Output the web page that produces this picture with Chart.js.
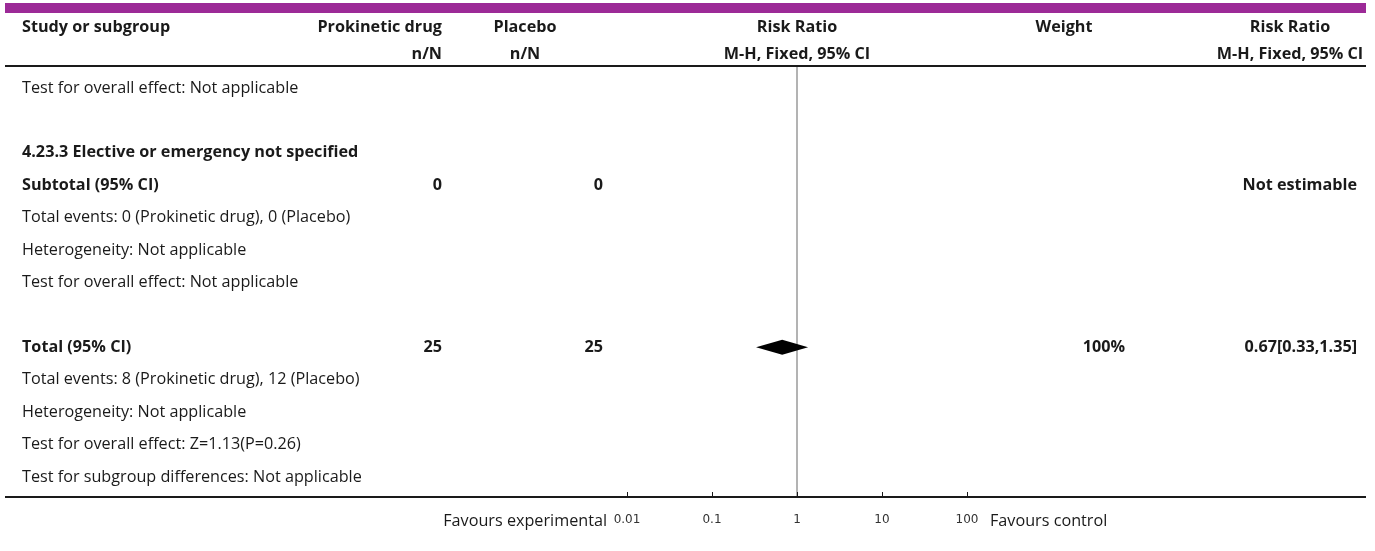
<!DOCTYPE html>
<html lang="en">
<head>
<meta charset="UTF-8">
<title>Forest plot - Risk Ratio</title>
<script src="https://cdn.jsdelivr.net/npm/chart.js"></script>
<style>
    body { margin: 0; background: #fff; }
    #wrap { width: 1375px; height: 551px; }
</style>
</head>
<body>
<div id="wrap"><canvas id="forest" width="1375" height="551"></canvas></div>

<script>
    // rows of the table (index = row number on the y scale)
    const rowLabels = [
        'Test for overall effect: Not applicable',
        '',
        '4.23.3 Elective or emergency not specified',
        'Subtotal (95% CI)',
        'Total events: 0 (Prokinetic drug), 0 (Placebo)',
        'Heterogeneity: Not applicable',
        'Test for overall effect: Not applicable',
        '',
        'Total (95% CI)',
        'Total events: 8 (Prokinetic drug), 12 (Placebo)',
        'Heterogeneity: Not applicable',
        'Test for overall effect: Z=1.13(P=0.26)',
        'Test for subgroup differences: Not applicable'
    ];
    const boldRows = [2, 3, 8];
    const prokineticN = ['', '', '', '0', '', '', '', '', '25', '', '', '', ''];
    const placeboN = ['', '', '', '0', '', '', '', '', '25', '', '', '', ''];
    const weights = ['', '', '', '', '', '', '', '', '100%', '', '', '', ''];
    const rrText = ['', '', '', 'Not estimable', '', '', '', '', '0.67[0.33,1.35]', '', '', '', ''];

    // pooled estimate (diamond)
    const diamondRow = [8];
    const diamondEst = [0.67];
    const diamondLo = [0.33];
    const diamondHi = [1.35];

    const axisTicks = [0.01, 0.1, 1, 10, 100];

    const FONT = '"Open Sans", "Noto Sans", sans-serif';
    const TXT = '#1a1a1a';

    function put(ctx, text, x, y, align, bold) {
        ctx.font = (bold ? 'bold ' : '') + '16.2px ' + FONT;
        ctx.textAlign = align;
        ctx.textBaseline = 'middle';
        ctx.fillStyle = TXT;
        ctx.fillText(text, x, y);
    }

    const tablePlugin = {
        id: 'table',
        afterDraw(chart) {
            const ctx = chart.ctx;
            const xs = chart.scales.x, ys = chart.scales.y;
            const area = chart.chartArea;
            const one = xs.getPixelForValue(1);
            ctx.save();

            // purple band
            ctx.fillStyle = '#9c2a97';
            ctx.fillRect(5, 3, 1361, 10);

            // header
            const h1 = ys.getPixelForValue(-1.88), h2 = ys.getPixelForValue(-1.05);
            put(ctx, 'Study or subgroup', 22, h1, 'left', true);
            put(ctx, 'Prokinetic drug', 442, h1, 'right', true);
            put(ctx, 'n/N', 442, h2, 'right', true);
            put(ctx, 'Placebo', 525, h1, 'center', true);
            put(ctx, 'n/N', 525, h2, 'center', true);
            put(ctx, 'Risk Ratio', one, h1, 'center', true);
            put(ctx, 'M-H, Fixed, 95% CI', one, h2, 'center', true);
            put(ctx, 'Weight', 1064, h1, 'center', true);
            put(ctx, 'Risk Ratio', 1290, h1, 'center', true);
            put(ctx, 'M-H, Fixed, 95% CI', 1290, h2, 'center', true);

            // horizontal rules
            ctx.strokeStyle = '#1a1a1a';
            ctx.lineWidth = 2;
            ctx.beginPath();
            ctx.moveTo(5, area.top); ctx.lineTo(1366, area.top);
            ctx.moveTo(5, area.bottom); ctx.lineTo(1366, area.bottom);
            ctx.stroke();

            // line of no effect
            ctx.strokeStyle = '#9a9a9a';
            ctx.lineWidth = 1.5;
            ctx.beginPath();
            ctx.moveTo(one, area.top + 1); ctx.lineTo(one, area.bottom - 1);
            ctx.stroke();

            // small ticks above the axis
            ctx.strokeStyle = '#1a1a1a';
            ctx.lineWidth = 1;
            ctx.beginPath();
            axisTicks.forEach(v => {
                const px = Math.round(xs.getPixelForValue(v)) + 0.5;
                ctx.moveTo(px, area.bottom - 5); ctx.lineTo(px, area.bottom);
            });
            ctx.stroke();

            // table body
            rowLabels.forEach((lab, i) => {
                const y = ys.getPixelForValue(i);
                const b = boldRows.includes(i);
                if (lab) put(ctx, lab, 22, y, 'left', b);
                if (prokineticN[i]) put(ctx, prokineticN[i], 442, y, 'right', true);
                if (placeboN[i]) put(ctx, placeboN[i], 603, y, 'right', true);
                if (weights[i]) put(ctx, weights[i], 1125, y, 'right', true);
                if (rrText[i]) put(ctx, rrText[i], 1357, y, 'right', true);
            });

            // diamonds
            ctx.fillStyle = '#000';
            diamondRow.forEach((r, k) => {
                const y = ys.getPixelForValue(r);
                const xl = xs.getPixelForValue(diamondLo[k]);
                const xm = xs.getPixelForValue(diamondEst[k]);
                const xr = xs.getPixelForValue(diamondHi[k]);
                ctx.beginPath();
                ctx.moveTo(xl, y);
                ctx.lineTo(xm, y - 7.5);
                ctx.lineTo(xr, y);
                ctx.lineTo(xm, y + 7.5);
                ctx.closePath();
                ctx.fill();
            });

            // favours labels
            const fy = ys.getPixelForValue(13.36);
            put(ctx, 'Favours experimental', 607, fy, 'right', false);
            put(ctx, 'Favours control', 990, fy, 'left', false);

            ctx.restore();
        }
    };

    new Chart('forest', {
        type: 'scatter',
        data: {
            datasets: [{
                data: diamondRow.map((r, k) => ({x: diamondEst[k], y: r})),
                pointRadius: 0
            }]
        },
        options: {
            responsive: false,
            animation: false,
            events: [],
            layout: { padding: { left: 627, right: 408, top: 66, bottom: 0 } },
            plugins: { legend: { display: false }, tooltip: { enabled: false } },
            scales: {
                x: {
                    type: 'logarithmic',
                    min: 0.01,
                    max: 100,
                    afterBuildTicks(scale) {
                        scale.ticks = axisTicks.map(v => ({value: v}));
                    },
                    afterFit(scale) { scale.height = 54; },
                    grid: { display: false },
                    border: { display: false },
                    ticks: {
                        autoSkip: false,
                        maxRotation: 0,
                        padding: 8,
                        color: '#333',
                        font: { family: '"DejaVu Sans"', size: 12 },
                        callback: v => String(v)
                    }
                },
                y: {
                    type: 'linear',
                    display: false,
                    reverse: true,
                    min: -0.68,
                    max: 12.62
                }
            }
        },
        plugins: [tablePlugin]
    });
</script>
</body>
</html>
